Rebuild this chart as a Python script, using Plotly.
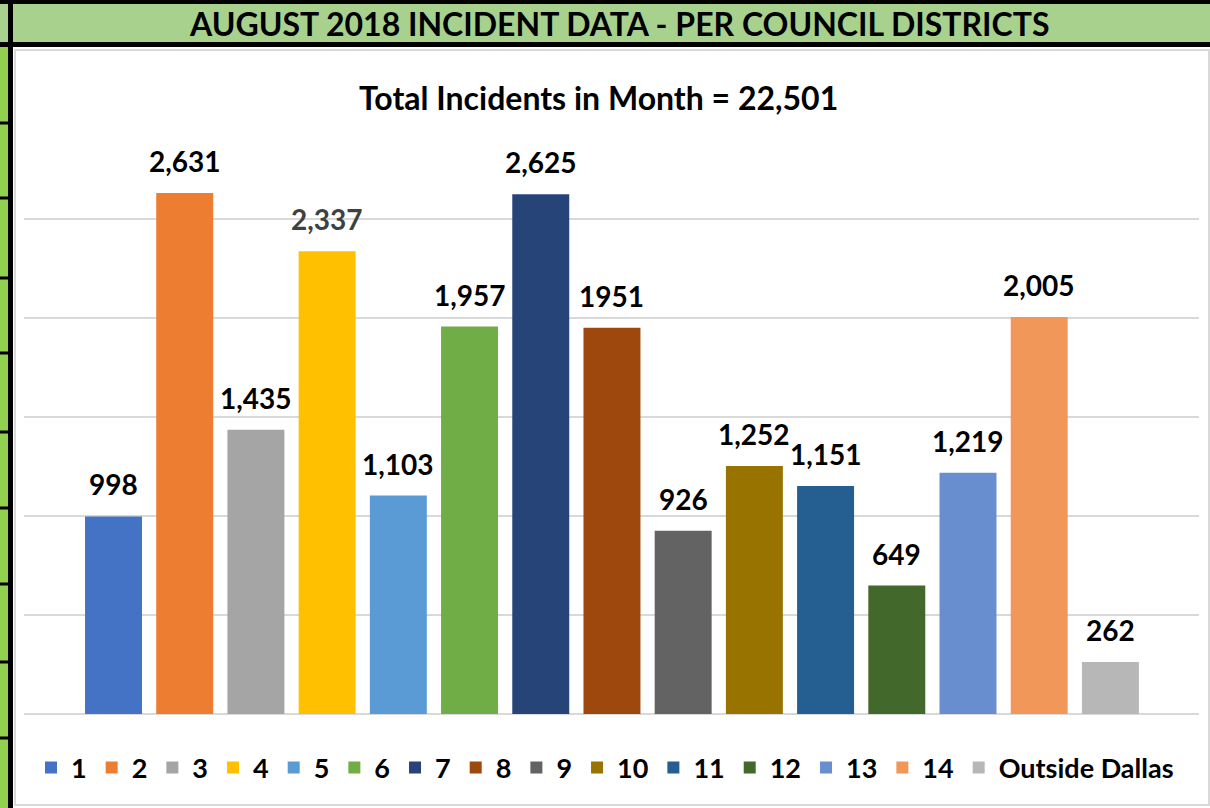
import plotly.graph_objects as go

# ---- data ----
districts = ["1", "2", "3", "4", "5", "6", "7", "8", "9", "10", "11", "12", "13", "14", "Outside Dallas"]
incidents = [998, 2631, 1435, 2337, 1103, 1957, 2625, 1951, 926, 1252, 1151, 649, 1219, 2005, 262]
value_labels = ["998", "2,631", "1,435", "2,337", "1,103", "1,957", "2,625", "1951", "926",
                "1,252", "1,151", "649", "1,219", "2,005", "262"]
bar_colors = ["#4472C4", "#ED7D31", "#A5A5A5", "#FFC000", "#5B9BD5", "#70AD47", "#264478",
              "#9E480E", "#636363", "#997300", "#255E91", "#43682B", "#698ED0", "#F1975A", "#B7B7B7"]
label_colors = ["#000000"] * 15
label_colors[3] = "#404040"

header_text = "AUGUST 2018 INCIDENT DATA - PER COUNCIL DISTRICTS"
chart_title = "Total Incidents in Month = 22,501"

W, H = 1210, 808
FONT = "Lato"


def px(x):
    return x / W


def py(y):
    return (H - y) / H


fig = go.Figure()
for name, val, col in zip(districts, incidents, bar_colors):
    fig.add_trace(go.Bar(x=[name], y=[val], name=name, marker=dict(color=col, line=dict(width=0)),
                         width=0.8, hoverinfo="x+y"))

annotations = []
for i, (val, lab, lc) in enumerate(zip(incidents, value_labels, label_colors)):
    annotations.append(dict(x=i, y=val, xref="x", yref="y", text="<b>%s</b>" % lab,
                            showarrow=False, yanchor="bottom", yshift=13,
                            font=dict(family=FONT, size=28, color=lc)))

annotations.append(dict(x=px(619), y=py(23), xref="paper", yref="paper", text="<b>%s</b>" % header_text,
                        showarrow=False, xanchor="center", yanchor="middle",
                        font=dict(family=FONT, size=32, color="#000000")))
annotations.append(dict(x=px(598), y=py(97), xref="paper", yref="paper", text="<b>%s</b>" % chart_title,
                        showarrow=False, xanchor="center", yanchor="middle",
                        font=dict(family=FONT, size=32, color="#000000")))

shapes = []
# chart area border
shapes.append(dict(type="rect", xref="paper", yref="paper", x0=px(15), x1=px(1209), y0=py(50), y1=py(805),
                   line=dict(color="#D9D9D9", width=2), fillcolor="rgba(0,0,0,0)", layer="below"))
# header band
shapes.append(dict(type="rect", xref="paper", yref="paper", x0=0, x1=1, y0=py(0), y1=py(44),
                   line=dict(width=0), fillcolor="#A9D18E", layer="below"))
shapes.append(dict(type="rect", xref="paper", yref="paper", x0=0, x1=1, y0=py(0), y1=py(4),
                   line=dict(width=0), fillcolor="#000000", layer="below"))
shapes.append(dict(type="rect", xref="paper", yref="paper", x0=0, x1=1, y0=py(42), y1=py(47),
                   line=dict(width=0), fillcolor="#000000", layer="below"))
# left column
shapes.append(dict(type="rect", xref="paper", yref="paper", x0=0, x1=px(8), y0=py(47), y1=py(808),
                   line=dict(width=0), fillcolor="#92D050", layer="below"))
shapes.append(dict(type="rect", xref="paper", yref="paper", x0=px(8), x1=px(13), y0=py(0), y1=py(808),
                   line=dict(width=0), fillcolor="#000000", layer="below"))
for yy in [123, 198, 278, 353, 432, 508, 584, 662, 738]:
    shapes.append(dict(type="rect", xref="paper", yref="paper", x0=0, x1=px(9), y0=py(yy - 1.5), y1=py(yy + 1.5),
                       line=dict(width=0), fillcolor="#000000", layer="below"))

fig.update_layout(
    width=W, height=H,
    margin=dict(l=0, r=0, t=0, b=0),
    paper_bgcolor="#FFFFFF", plot_bgcolor="rgba(0,0,0,0)",
    barmode="overlay",
    showlegend=True,
    legend=dict(orientation="h", x=0.5, xanchor="center", y=py(768), yanchor="middle",
                font=dict(family=FONT, size=27, color="#000000", weight="bold"), bgcolor="rgba(0,0,0,0)",
                itemclick=False, itemdoubleclick=False, traceorder="normal"),
    xaxis=dict(domain=[px(24), px(1199)], range=[-1.257, 15.244], showticklabels=False,
               showgrid=False, zeroline=False, showline=False, ticks="", fixedrange=True,
               categoryorder="array", categoryarray=districts),
    yaxis=dict(domain=[py(714), py(120)], range=[0, 3000], dtick=500, showticklabels=False,
               showgrid=True, gridcolor="#D9D9D9", gridwidth=2, zeroline=True, zerolinecolor="#D9D9D9",
               zerolinewidth=2, showline=False, ticks="", fixedrange=True),
    annotations=annotations,
    shapes=shapes,
    font=dict(family=FONT),
)

fig.write_html("out.html", config={"displayModeBar": False},
               post_script="document.body.style.margin='0';")
